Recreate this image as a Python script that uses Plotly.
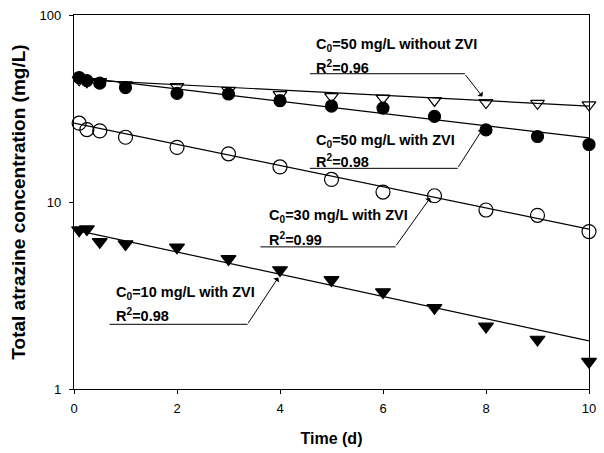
import plotly.graph_objects as go

# ---- data ----
time_d = [0.1, 0.25, 0.5, 1, 2, 3, 4, 5, 6, 7, 8, 9, 10]
c50_without_zvi = [45.0, 44.0, 44.0, 42.3, 41.4, 39.5, 37.5, 36.6, 35.9, 34.9, 34.0, 33.7, 33.1]
c50_with_zvi = [46.3, 44.6, 43.2, 40.9, 38.1, 37.8, 34.8, 32.6, 31.8, 28.7, 24.3, 22.4, 20.3]
c30_with_zvi = [26.4, 24.4, 24.0, 22.2, 19.6, 18.1, 15.4, 13.2, 11.3, 10.8, 9.06, 8.49, 6.95]
c10_with_zvi = [7.07, 7.16, 6.12, 5.96, 5.72, 4.96, 4.33, 3.83, 3.30, 2.72, 2.16, 1.84, 1.40]

fit_time = [0, 10]
fit_c50_without = [45.3, 32.6]
fit_c50_with = [46.8, 22.0]
fit_c30_with = [26.4, 7.16]
fit_c10_with = [7.1, 1.81]

labels = [
    ("C<sub>0</sub>=50 mg/L without ZVI", "R<sup>2</sup>=0.96"),
    ("C<sub>0</sub>=50 mg/L with ZVI", "R<sup>2</sup>=0.98"),
    ("C<sub>0</sub>=30 mg/L with ZVI", "R<sup>2</sup>=0.99"),
    ("C<sub>0</sub>=10 mg/L with ZVI", "R<sup>2</sup>=0.98"),
]

x_ticks = [0, 2, 4, 6, 8, 10]
y_ticks = [1, 10, 100]

FONT = "Liberation Sans, Arial, sans-serif"

fig = go.Figure()

for fy in [fit_c50_without, fit_c50_with, fit_c30_with, fit_c10_with]:
    fig.add_trace(go.Scatter(x=fit_time, y=fy, mode="lines",
                             line=dict(color="black", width=1.2),
                             showlegend=False, hoverinfo="skip"))

series = [
    (c50_without_zvi, "triangle-down-open", 12),
    (c50_with_zvi, "circle", 12),
    (c30_with_zvi, "circle-open", 14),
    (c10_with_zvi, "triangle-down", 13),
]
for ys, sym, sz in series:
    fig.add_trace(go.Scatter(x=time_d, y=ys, mode="markers", cliponaxis=False,
                             marker=dict(symbol=sym, size=sz, color="black",
                                         line=dict(color="black", width=1.2)),
                             showlegend=False))

# annotation layout (paper coordinates): text left x, line1 y, line2 y,
# underline y, underline x0, x1, arrow tip x, y, tail offsets (px)
ann_layout = [
    (0.4655, 0.920, 0.862, 0.843, 0.458, 0.759, 0.793, 0.782, -18, -23),
    (0.4655, 0.662, 0.609, 0.590, 0.458, 0.745, 0.793, 0.694, -25, 39),
    (0.3755, 0.463, 0.402, 0.380, 0.362, 0.6245, 0.6916, 0.511, -35, 49),
    (0.0785, 0.258, 0.197, 0.173, 0.069, 0.337, 0.3966, 0.298, -31, 47),
]

afont = dict(family=FONT, size=14.5, color="black", weight="bold")
for (l1, l2), (tx, y1, y2, uy, ux0, ux1, px, py, axo, ayo) in zip(labels, ann_layout):
    fig.add_annotation(x=tx, y=y1, xref="paper", yref="paper", text=l1,
                       showarrow=False, xanchor="left", yanchor="middle", font=afont)
    fig.add_annotation(x=tx, y=y2, xref="paper", yref="paper", text=l2,
                       showarrow=False, xanchor="left", yanchor="middle", font=afont)
    fig.add_shape(type="line", xref="paper", yref="paper", x0=ux0, x1=ux1, y0=uy, y1=uy,
                  line=dict(color="black", width=1))
    fig.add_annotation(x=px, y=py, xref="paper", yref="paper", text="",
                       showarrow=True, ax=axo, ay=ayo, arrowhead=1, arrowsize=1.2,
                       arrowwidth=1, arrowcolor="black", standoff=0)

fig.update_xaxes(range=[0, 10], tickvals=x_ticks, showline=True, linecolor="black",
                 linewidth=1.2, mirror=True, ticks="outside", ticklen=4, tickcolor="black",
                 showgrid=False, zeroline=False, ticklabelstandoff=3,
                 tickfont=dict(family=FONT, size=13, color="black"),
                 title=dict(text="Time (d)", standoff=18,
                            font=dict(family=FONT, size=16, color="black", weight="bold")))
fig.update_yaxes(type="log", range=[0, 2], tickvals=y_ticks, ticktext=["1", "10", "100"],
                 showline=True, linecolor="black", linewidth=1.2, mirror=True,
                 ticks="outside", ticklen=4, tickcolor="black",
                 showgrid=False, zeroline=False, ticklabelstandoff=5,
                 tickfont=dict(family=FONT, size=13, color="black"),
                 title=dict(text="Total atrazine concentration (mg/L)", standoff=8,
                            font=dict(family=FONT, size=19, color="black", weight="bold")))

fig.update_layout(width=604, height=453, margin=dict(l=74, r=8, t=13, b=64),
                  paper_bgcolor="white", plot_bgcolor="white")

fig.write_html("out.html", config={"displayModeBar": False},
               post_script="document.body.style.margin='0';document.body.style.overflow='hidden';")
